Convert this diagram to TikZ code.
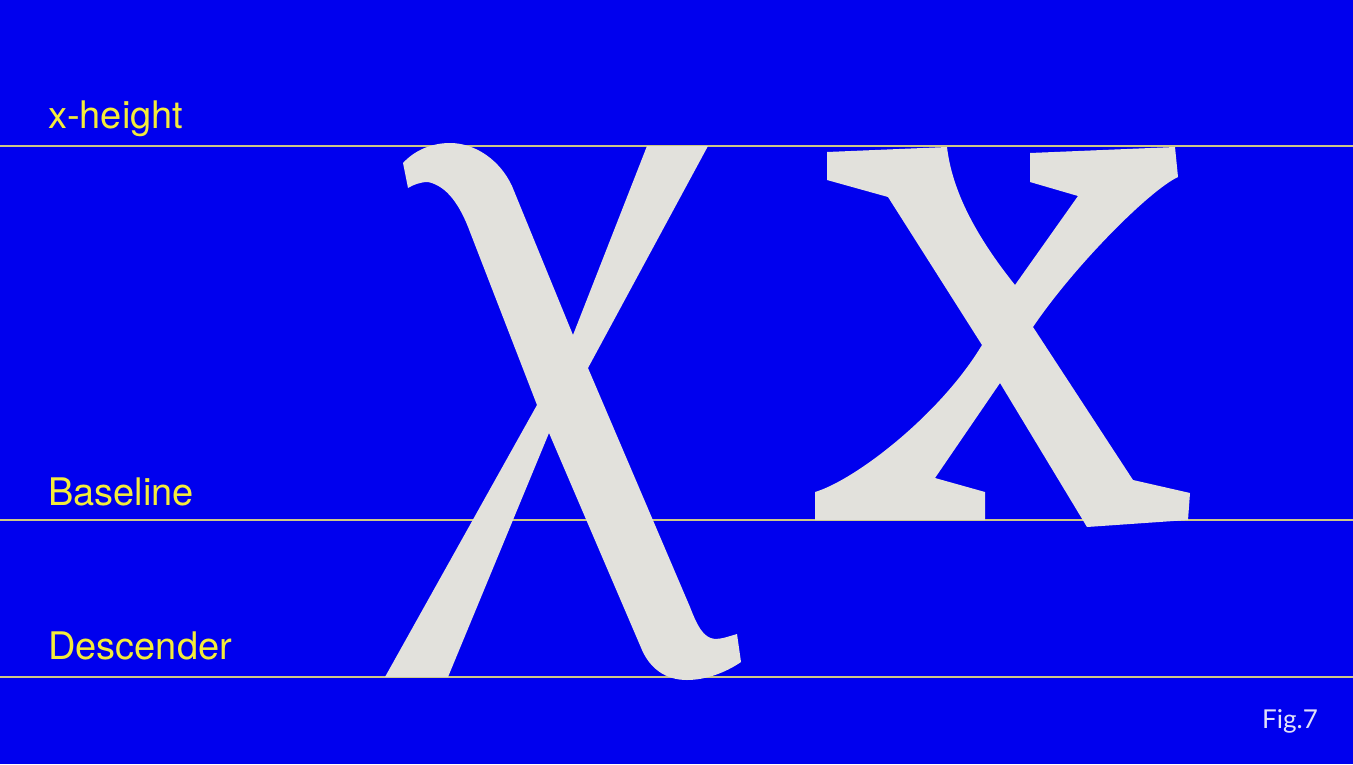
\documentclass[tikz,border=0pt]{standalone}
\usepackage{fontspec}
\setmainfont{TeX Gyre Heros}
\newfontfamily\figfont{Lato}
\definecolor{bgblue}{RGB}{0,0,238}
\definecolor{glyph}{RGB}{226,225,220}
\definecolor{labelyellow}{RGB}{244,236,58}
\definecolor{rulecol}{RGB}{205,200,135}
\definecolor{figcol}{RGB}{225,225,248}
\tikzset{
  guide/.style={draw=rulecol, line width=1.8pt},
  glyphshape/.style={fill=glyph, draw=none},
  guidelabel/.style={anchor=base west, inner sep=0pt, text=labelyellow, font=\fontsize{38}{45}\selectfont},
  figlabel/.style={anchor=base west, inner sep=0pt, text=figcol, font=\figfont\fontsize{26}{30}\selectfont}
}
\begin{document}
\begin{tikzpicture}[x=1pt,y=-1pt]
\useasboundingbox (0,0) rectangle (1353,764);
\fill[bgblue] (0,0) rectangle (1353,764);

% guide lines
\coordinate (xl) at (0,146);   \coordinate (xr) at (1353,146);
\coordinate (bl) at (0,520);   \coordinate (br) at (1353,520);
\coordinate (dl) at (0,677);   \coordinate (dr) at (1353,677);
\draw[guide] (xl) -- (xr);
\draw[guide] (bl) -- (br);
\draw[guide] (dl) -- (dr);

% chi glyph
\path[glyphshape] (403,163)
  .. controls (415,150) and (432,143) .. (450,143)
  .. controls (475,143) and (500,160) .. (512,186)
  -- (573,335)
  -- (647,146)
  -- (708,146)
  -- (588,368)
  -- (690,607)
  .. controls (697,625) and (703,638) .. (715,639)
  .. controls (722,639) and (730,636) .. (737,634)
  -- (741,662)
  .. controls (725,673) and (705,680) .. (687,680)
  .. controls (665,680) and (650,668) .. (642,650)
  -- (549,433)
  -- (448,677)
  -- (385,677)
  -- (537,405)
  -- (470,232)
  .. controls (460,205) and (447,186) .. (428,182)
  .. controls (420,182) and (413,185) .. (408,188)
  -- cycle;

% x glyph
\path[glyphshape] (827,152) -- (947,147)
  .. controls (952,190) and (975,235) .. (1015,285)
  -- (1078,196) -- (1030,182) -- (1030,153) -- (1175,147) -- (1178,177)
  .. controls (1150,190) and (1075,265) .. (1033,327)
  -- (1133,480) -- (1190,493) -- (1188,520) -- (1087,527)
  -- (1000,383) -- (935,478) -- (985,492) -- (985,520)
  -- (815,520) -- (815,492)
  .. controls (855,480) and (940,415) .. (982,345)
  -- (888,197) -- (827,180) -- cycle;

% labels
\node[guidelabel] (xh) at (48,128) {x-height};
\node[guidelabel] (bs) at (48,505) {Baseline};
\node[guidelabel] (ds) at (48,659) {Descender};
\node[figlabel] (fig) at (1262,728) {Fig.7};
\end{tikzpicture}
\end{document}
